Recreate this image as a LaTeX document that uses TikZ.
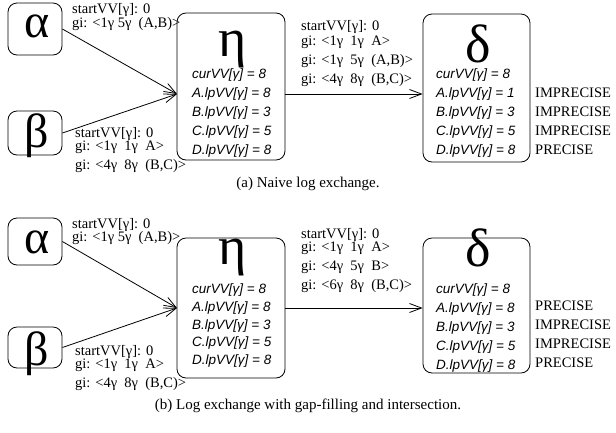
\documentclass[tikz,border=0pt]{standalone}
\usepackage{fontspec}
\setmainfont{Liberation Serif}
\setsansfont{Liberation Sans}
\usetikzlibrary{positioning}
\usetikzlibrary{arrows.meta}

\begin{document}
\begin{tikzpicture}[x=1pt,y=-1pt,
      box/.style={draw,rounded corners=9pt,line width=0.8pt,inner sep=0pt},
      greek/.style={inner sep=0pt,anchor=base,font=\fontsize{48}{48}\selectfont},
      biggreek/.style={greek,font=\fontsize{54}{54}\selectfont},
      vals/.style={inner sep=0pt,anchor=north west,align=left,
        font=\sffamily\itshape\fontsize{13.5}{18.8}\selectfont},
      lbl/.style={inner sep=0pt,anchor=north west,align=left,
        font=\fontsize{14.5}{19}\selectfont},
      stat/.style={inner sep=0pt,anchor=north west,align=left,
        font=\fontsize{14.5}{19}\selectfont},
      figcap/.style={inner sep=0pt,font=\fontsize{15}{15}\selectfont},
      arr/.style={line width=0.8pt,-{Straight Barb[length=12pt,width=9pt]}},
    ]
    \useasboundingbox (0,0) rectangle (616,432);

    % (a) naive
    \node[box,minimum width=54pt,minimum height=52pt] (alphaA) at (35,29) {};
    \node[greek] (alphaAsym) at (37,37) {α};
    \node[box,minimum width=54pt,minimum height=44pt] (betaA) at (35,133) {};
    \node[greek] (betaAsym) at (37,147) {β};
    \node[box,minimum width=108pt,minimum height=147pt] (etaA) at (231,86.5) {};
    \node[biggreek] (etaAsym) at (233,56) {η};
    \node[box,minimum width=107pt,minimum height=148pt] (deltaA) at (476.5,88) {};
    \node[biggreek] (deltaAsym) at (478,62) {δ};

    \node[vals] (etaAvals) at (192,69) {curVV[γ] = 8\\A.lpVV[γ] = 8\\B.lpVV[γ] = 3\\C.lpVV[γ] = 5\\D.lpVV[γ] = 8};
    \node[vals] (deltaAvals) at (436,69) {curVV[γ] = 8\\A.lpVV[γ] = 1\\B.lpVV[γ] = 3\\C.lpVV[γ] = 5\\D.lpVV[γ] = 8};
    \node[stat] (deltaAstat) at (535,88) {IMPRECISE\\IMPRECISE\\IMPRECISE\\PRECISE};

    \node[lbl] (alphaAlbl) at (72,3) {startVV[γ]: 0\\[-5pt]gi: <1γ 5γ\enspace(A,B)>};
    \node[lbl] (betaAlbl) at (75,127) {startVV[γ]: 0\\[-6pt]gi: <1γ\enspace1γ\enspace A>\\gi: <4γ\enspace8γ\enspace(B,C)>};
    \node[lbl] (etaAlbl) at (301,20) {startVV[γ]: 0\\[-4pt]gi: <1γ\enspace1γ\enspace A>\\gi: <1γ\enspace5γ\enspace(A,B)>\\gi: <4γ\enspace8γ\enspace(B,C)>};

    \coordinate (etaAin) at (177,94);
    \draw[arr] (alphaA.east) -- (etaAin);
    \draw[arr] (betaA.east) -- (etaAin);
    \draw[arr] (etaA.east |- etaAin) -- (deltaA.west |- etaAin);

    \node[figcap] (capA) at (308,184) {(a) Naive log exchange.};

    % (b) gap-filling
    \node[box,minimum width=54pt,minimum height=47pt] (alphaB) at (35,241.5) {};
    \node[greek] (alphaBsym) at (37,253) {α};
    \node[box,minimum width=54pt,minimum height=41pt] (betaB) at (35,347.5) {};
    \node[greek] (betaBsym) at (37,365) {β};
    \node[box,minimum width=108pt,minimum height=140pt] (etaB) at (231,308) {};
    \node[biggreek] (etaBsym) at (233,264) {η};
    \node[box,minimum width=107pt,minimum height=135pt] (deltaB) at (476.5,305.5) {};
    \node[biggreek] (deltaBsym) at (478,266) {δ};

    \node[vals,font=\sffamily\itshape\fontsize{13.5}{17.6}\selectfont] (etaBvals) at (192,284) {curVV[γ] = 8\\A.lpVV[γ] = 8\\B.lpVV[γ] = 3\\C.lpVV[γ] = 5\\D.lpVV[γ] = 8};
    \node[vals] (deltaBvals) at (436,284) {curVV[γ] = 8\\A.lpVV[γ] = 8\\B.lpVV[γ] = 3\\C.lpVV[γ] = 5\\D.lpVV[γ] = 8};
    \node[stat] (deltaBstat) at (535,301) {PRECISE\\IMPRECISE\\IMPRECISE\\PRECISE};

    \node[lbl] (alphaBlbl) at (72,218) {startVV[γ]: 0\\[-6pt]gi: <1γ 5γ\enspace(A,B)>};
    \node[lbl] (betaBlbl) at (75,345) {startVV[γ]: 0\\[-6pt]gi: <1γ\enspace1γ\enspace A>\\gi: <4γ\enspace8γ\enspace(B,C)>};
    \node[lbl] (etaBlbl) at (301,228) {startVV[γ]: 0\\[-6pt]gi: <1γ\enspace1γ\enspace A>\\gi: <4γ\enspace5γ\enspace B>\\gi: <6γ\enspace8γ\enspace(B,C)>};

    \coordinate (etaBin) at (177,308);
    \draw[arr] (alphaB.east) -- (etaBin);
    \draw[arr] (betaB.east) -- (etaBin);
    \draw[arr] (etaB.east |- etaBin) -- (deltaB.west |- etaBin);

    \node[figcap] (capB) at (308,406) {(b) Log exchange with gap-filling and intersection.};
\end{tikzpicture}
\end{document}
